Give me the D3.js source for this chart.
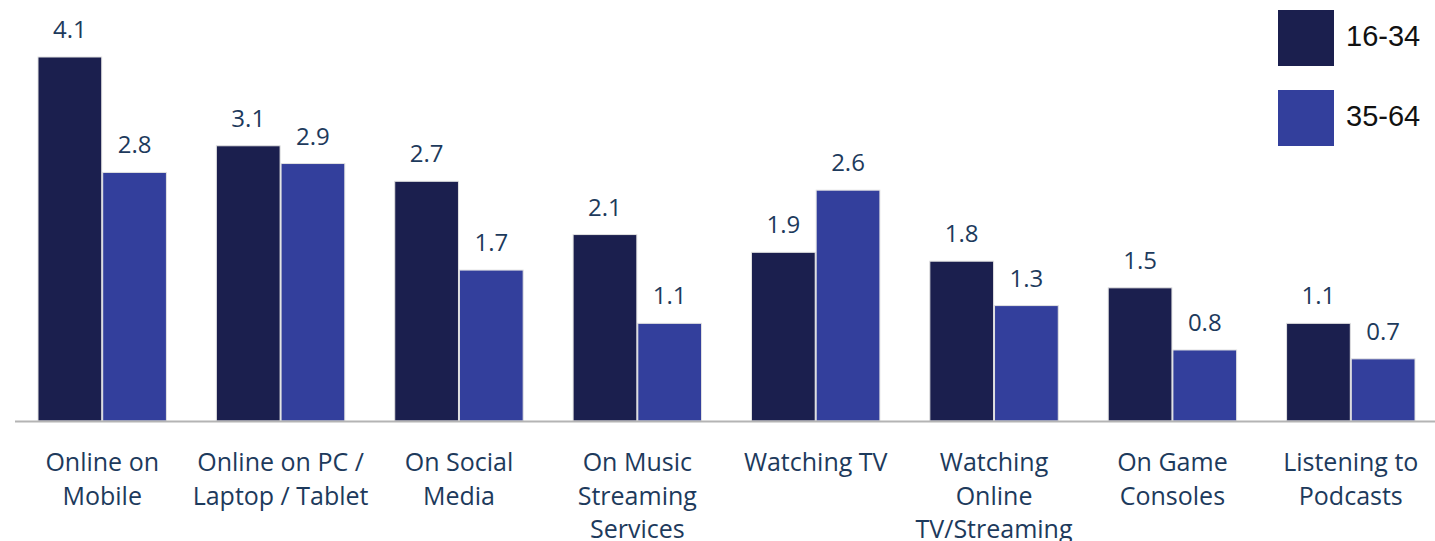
<!DOCTYPE html>
<html>
<head>
<meta charset="utf-8">
<script src="https://cdn.jsdelivr.net/npm/d3@7"></script>
<style>
  body { margin: 0; background: #fff; }
  svg { display: block; }
</style>
</head>
<body>
<div id="chart"></div>
<script>
const categories = [
  ["Online on", "Mobile"],
  ["Online on PC /", "Laptop / Tablet"],
  ["On Social", "Media"],
  ["On Music", "Streaming", "Services"],
  ["Watching TV"],
  ["Watching", "Online", "TV/Streaming"],
  ["On Game", "Consoles"],
  ["Listening to", "Podcasts"]
];
const series = ["16-34", "35-64"];
const young = [4.1, 3.1, 2.7, 2.1, 1.9, 1.8, 1.5, 1.1];
const older = [2.8, 2.9, 1.7, 1.1, 2.6, 1.3, 0.8, 0.7];
const colors = ["#1b1f4e", "#333f9c"];

const W = 1435, H = 541;
const baseY = 421;

const svg = d3.select('#chart').append('svg')
  .attr('width', W)
  .attr('height', H);

const x0 = d3.scaleBand()
  .domain(d3.range(categories.length))
  .range([38, 1415])
  .paddingInner(0.28)
  .paddingOuter(0);

const x1 = d3.scaleBand()
  .domain(series)
  .range([0, x0.bandwidth()])
  .paddingInner(0.015);

const y = d3.scaleLinear()
  .domain([0, 4.1])
  .range([baseY, 57]);

const rows = categories.map((c, i) => ({i, vals: [young[i], older[i]]}));

const groups = svg.selectAll('g.group')
  .data(rows)
  .enter().append('g')
  .attr('class', 'group')
  .attr('transform', d => `translate(${x0(d.i)},0)`);

groups.selectAll('rect')
  .data(d => d.vals.map((v, k) => ({k, v})))
  .enter().append('rect')
  .attr('x', d => x1(series[d.k]))
  .attr('y', d => y(d.v))
  .attr('width', x1.bandwidth())
  .attr('height', d => baseY - y(d.v))
  .attr('fill', d => colors[d.k])
  .attr('stroke', '#e2e2e2')
  .attr('stroke-width', 1);

groups.selectAll('text.val')
  .data(d => d.vals.map((v, k) => ({k, v})))
  .enter().append('text')
  .attr('class', 'val')
  .attr('x', d => x1(series[d.k]) + x1.bandwidth() / 2)
  .attr('y', d => y(d.v) - 19)
  .attr('text-anchor', 'middle')
  .style('font-family', '"Open Sans", "Noto Sans", sans-serif')
  .style('font-size', '24px')
  .style('fill', '#1d3a5c')
  .text(d => d.v.toFixed(1));

// baseline
svg.append('line')
  .attr('x1', 15).attr('x2', W)
  .attr('y1', baseY + 0.5).attr('y2', baseY + 0.5)
  .attr('stroke', '#b4b4b4')
  .attr('stroke-width', 2);

// category labels
const labels = svg.selectAll('text.cat')
  .data(categories)
  .enter().append('text')
  .attr('class', 'cat')
  .attr('text-anchor', 'middle')
  .attr('x', (d, i) => x0(i) + x0.bandwidth() / 2)
  .attr('y', 471)
  .style('font-family', '"Open Sans", "Noto Sans", sans-serif')
  .style('font-size', '25px')
  .style('fill', '#1d3a5c');

labels.selectAll('tspan')
  .data(d => d)
  .enter().append('tspan')
  .attr('x', function () { return this.parentNode.getAttribute('x'); })
  .attr('dy', (d, i) => i === 0 ? 0 : 33.5)
  .text(d => d);

// legend
const legend = svg.selectAll('g.legend')
  .data(series)
  .enter().append('g')
  .attr('class', 'legend')
  .attr('transform', (d, i) => `translate(1278,${10 + i * 80})`);

legend.append('rect')
  .attr('width', 56)
  .attr('height', 56)
  .attr('fill', (d, i) => colors[i]);

legend.append('text')
  .attr('x', 68)
  .attr('y', 36)
  .style('font-family', '"Liberation Sans", Arial, sans-serif')
  .style('font-size', '29px')
  .style('fill', '#111')
  .text(d => d);
</script>
</body>
</html>
